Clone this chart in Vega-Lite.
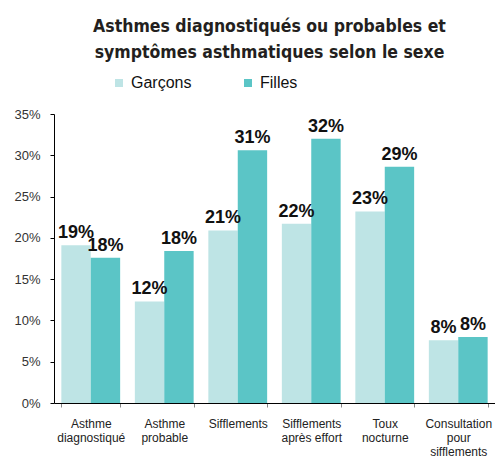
{
  "$schema": "https://vega.github.io/schema/vega-lite/v6.json",
  "width": 441,
  "height": 289,
  "autosize": {"type": "none"},
  "padding": {"left": 54, "top": 114, "right": 0, "bottom": 56},
  "background": "white",
  "title": {
    "text": ["Asthmes diagnostiqués ou probables et", "symptômes asthmatiques selon le sexe"],
    "font": "DejaVu Sans Condensed, Roboto, sans-serif",
    "fontSize": 17.5,
    "fontWeight": "bold",
    "color": "#231f20",
    "anchor": "middle",
    "frame": "group",
    "dx": -5,
    "lineHeight": 26,
    "offset": 14
  },
  "data": {
    "values": [
      {"categorie": "Asthme diagnostiqué", "sexe": "Garçons", "valeur": 0.191},
      {"categorie": "Asthme diagnostiqué", "sexe": "Filles", "valeur": 0.176},
      {"categorie": "Asthme probable", "sexe": "Garçons", "valeur": 0.123},
      {"categorie": "Asthme probable", "sexe": "Filles", "valeur": 0.184},
      {"categorie": "Sifflements", "sexe": "Garçons", "valeur": 0.209},
      {"categorie": "Sifflements", "sexe": "Filles", "valeur": 0.306},
      {"categorie": "Sifflements après effort", "sexe": "Garçons", "valeur": 0.217},
      {"categorie": "Sifflements après effort", "sexe": "Filles", "valeur": 0.320},
      {"categorie": "Toux nocturne", "sexe": "Garçons", "valeur": 0.232},
      {"categorie": "Toux nocturne", "sexe": "Filles", "valeur": 0.286},
      {"categorie": "Consultation pour sifflements", "sexe": "Garçons", "valeur": 0.076},
      {"categorie": "Consultation pour sifflements", "sexe": "Filles", "valeur": 0.080}
    ]
  },
  "encoding": {
    "x": {
      "field": "categorie",
      "type": "nominal",
      "sort": ["Asthme diagnostiqué", "Asthme probable", "Sifflements", "Sifflements après effort", "Toux nocturne", "Consultation pour sifflements"],
      "scale": {"paddingInner": 0.2, "paddingOuter": 0.1},
      "axis": {
        "title": null,
        "labelAngle": 0,
        "tickBand": "extent",
        "domainColor": "#000000",
        "tickColor": "#888888",
        "tickSize": 4,
        "labelFont": "Liberation Sans",
        "labelFontSize": 12,
        "labelColor": "#222222",
        "labelPadding": 11,
        "labelLineHeight": 14,
        "labelBaseline": "top",
        "labelLimit": 200,
        "labelExpr": "isValid(datum.value) ? (datum.value == 'Sifflements après effort' ? ['Sifflements', 'après effort'] : split(datum.value, ' ')) : ''"
      }
    },
    "xOffset": {"field": "sexe", "type": "nominal", "sort": ["Garçons", "Filles"]},
    "y": {
      "field": "valeur",
      "type": "quantitative",
      "scale": {"domain": [0, 0.35], "nice": false},
      "axis": {
        "title": null,
        "format": ".0%",
        "values": [0, 0.05, 0.1, 0.15, 0.2, 0.25, 0.3, 0.35],
        "grid": false,
        "tickSize": 4,
        "tickColor": "#000000",
        "domainColor": "#000000",
        "labelPadding": 10,
        "labelFont": "Liberation Sans",
        "labelFontSize": 13,
        "labelColor": "#333333"
      }
    }
  },
  "layer": [
    {
      "mark": {"type": "bar"},
      "encoding": {
        "color": {
          "field": "sexe",
          "type": "nominal",
          "scale": {"domain": ["Garçons", "Filles"], "range": ["#bee4e5", "#5bc5c6"]},
          "legend": {
            "title": null,
            "orient": "none",
            "legendX": 57,
            "legendY": -39,
            "direction": "horizontal",
            "symbolType": "square",
            "symbolSize": 64,
            "symbolStrokeWidth": 0,
            "labelFont": "Liberation Sans",
            "labelFontSize": 16,
            "labelColor": "#111111",
            "labelOffset": 4,
            "columnPadding": 48
          }
        }
      }
    },
    {
      "mark": {"type": "text", "baseline": "alphabetic", "dy": -7, "font": "Liberation Sans", "fontSize": 18, "fontWeight": "bold", "color": "#111111"},
      "encoding": {
        "text": {"field": "valeur", "type": "quantitative", "format": ".0%"}
      }
    }
  ],
  "config": {"view": {"stroke": null}}
}
